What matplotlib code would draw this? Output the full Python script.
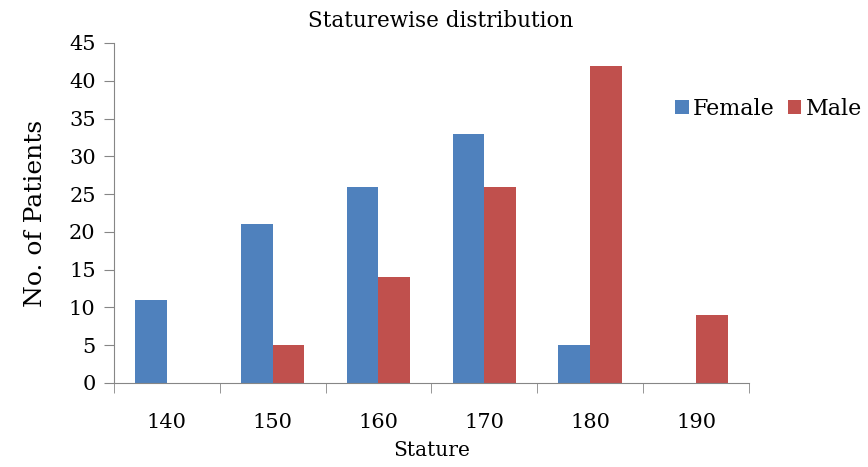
import matplotlib.pyplot as plt
import numpy as np

stature = ["140", "150", "160", "170", "180", "190"]
female = [11, 21, 26, 33, 5, 0]
male = [0, 5, 14, 26, 42, 9]

plt.rcParams['font.family'] = ['DejaVu Serif']

fig = plt.figure(figsize=(8.68, 4.67), dpi=100)
ax = fig.add_axes([0.131, 0.180, 0.732, 0.728])

x = np.arange(len(stature))
w = 0.3
ax.bar(x - w / 2, female, w, color="#4F81BD", label="Female")
ax.bar(x + w / 2, male, w, color="#C0504D", label="Male")

ax.set_xlim(-0.5, len(stature) - 0.5)
ax.set_ylim(0, 45)
ax.set_yticks(range(0, 46, 5))
ax.set_xticks(x)
ax.set_xticklabels(stature)
ax.set_xticks(np.arange(-0.5, len(stature)), minor=True)
ax.tick_params(axis="x", which="major", length=0, pad=22, labelsize=15)
ax.tick_params(axis="x", which="minor", length=7, color="#868686")
ax.tick_params(axis="y", length=7, color="#868686", labelsize=15, pad=6)

for s in ["top", "right"]:
    ax.spines[s].set_visible(False)
for s in ["left", "bottom"]:
    ax.spines[s].set_color("#868686")

ax.set_xlabel("Stature", fontsize=14.5, labelpad=6)
ax.set_ylabel("No. of Patients", fontsize=18, labelpad=16)
fig.text(0.508, 0.955, "Staturewise distribution", ha="center", va="center", fontsize=15.5)

ax.legend(loc="center left", bbox_to_anchor=(0.778, 0.767), bbox_transform=fig.transFigure,
          ncol=2, frameon=False, fontsize=16, handlelength=0.6, handleheight=0.6,
          handletextpad=0.2, columnspacing=0.6, borderaxespad=0, borderpad=0)

fig.savefig("out.png")
